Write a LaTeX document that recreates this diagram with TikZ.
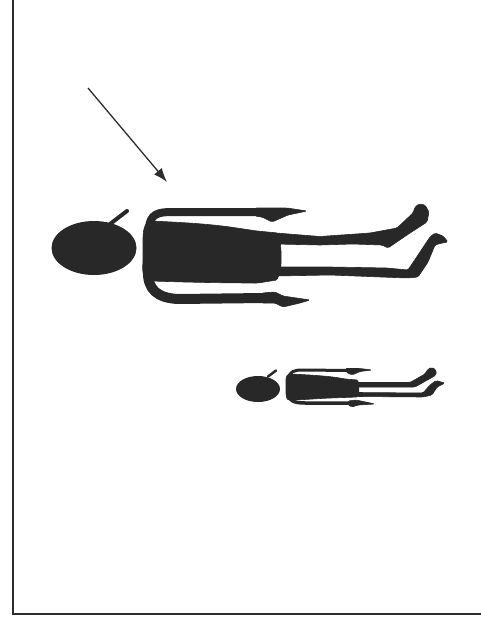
\documentclass[tikz,border=0pt]{standalone}
\usetikzlibrary{arrows.meta}
\definecolor{figink}{RGB}{40,40,40}
\definecolor{frameink}{RGB}{45,45,45}
\begin{document}
\begin{tikzpicture}[x=1pt,y=-1pt,
  body/.style={fill=figink, draw=figink, line width=0.6pt, line join=round, rounded corners=1.5pt},
  limb/.style={draw=figink, line cap=round, line join=round},
  frame/.style={draw=frameink, line width=1.4pt},
  pointer/.style={draw=frameink, line width=1.3pt, -{Latex[length=14pt,width=10pt]}}]
  \useasboundingbox (0,0) rectangle (481,623);
  \fill[white] (0,0) rectangle (481,623);

  % frame: left edge and bottom edge
  \coordinate (ftop) at (13,0);
  \coordinate (fcorner) at (13,614);
  \coordinate (fright) at (481,614);
  \draw[frame] (ftop) -- (fcorner) -- (fright);

  % pointer arrow
  \coordinate (tail) at (88,88);
  \coordinate (tip) at (167,182);
  \draw[pointer] (tail) -- (tip);

  % ---------- large figure ----------
  \fill[figink] (94,248) ellipse [x radius=42.5pt, y radius=27pt];
  \draw[limb, line width=4pt] (110,224) -- (127,211);
  % torso
  \fill[body] (152,221) .. controls (170,222) and (200,223) .. (230,227) -- (257,231) -- (278,233)
    .. controls (281,240) and (282,262) .. (280,272) -- (277,280) -- (258,283)
    .. controls (220,283) and (180,282) .. (152,281)
    .. controls (144,281) and (142,272) .. (143,262) -- (143,240)
    .. controls (143,228) and (146,221) .. (152,221) -- cycle;
  % upper arm and hand
  \draw[limb, line width=8pt] (149,228) .. controls (150,214) and (158,212) .. (172,212) -- (262,212);
  \fill[body] (255,208) -- (287,208) -- (307,211) -- (288,215) -- (272,222) -- (262,217) -- (255,216) -- cycle;
  % lower arm and hand
  \draw[limb, line width=10pt] (148,270) .. controls (147,290) and (158,298) .. (178,299) -- (265,298);
  \fill[body] (262,293) -- (275,292) -- (283,296) -- (310,300) -- (300,303) -- (283,307) -- (275,303) -- (262,303) -- cycle;
  % legs
  \fill[body] (276,233) -- (320,236.5) -- (370,233) -- (397,228) -- (413,213) -- (415,207) -- (419,204)
    -- (425,205) -- (429,212) -- (427,222) -- (407,235) -- (388,248) -- (382,245) -- (353,244)
    -- (320,245) -- (276,244) -- cycle;
  \fill[body] (276,267) -- (330,267) -- (387,268) -- (408,270) -- (420,252) -- (430,237) -- (435,233)
    -- (443,236) -- (448,242) -- (442,243) -- (435,245) -- (428,262) -- (418,277) -- (407,278)
    -- (330,275) -- (276,276) -- cycle;

  % ---------- small figure ----------
  \fill[figink] (258,389) ellipse [x radius=22pt, y radius=13pt];
  \draw[limb, line width=2.5pt] (268,376.5) -- (276,370.5);
  % torso
  \fill[body] (291,374) .. controls (310,375) and (330,376) .. (345,379) -- (358,380) -- (359,390) -- (358,397)
    -- (330,398) .. controls (310,399) and (300,400) .. (291,400)
    .. controls (286,400) and (286,395) .. (286,390) -- (286,381)
    .. controls (286,376) and (288,374) .. (291,374) -- cycle;
  % arms and hands
  \draw[limb, line width=3pt] (288,380) .. controls (289,371) and (295,370) .. (302,370) -- (350,370.5);
  \fill[body] (345,368.5) -- (360,368.5) -- (372,370) -- (360,371.5) -- (352,375) -- (346,372) -- cycle;
  \draw[limb, line width=3.5pt] (288,393) .. controls (288,401) and (295,403) .. (305,403) -- (352,403);
  \fill[body] (348,401) -- (356,400) -- (375,404) -- (358,405) -- (352,407) -- (348,405) -- cycle;
  % legs
  \fill[body] (357,382.5) -- (410,382.5) -- (425,374) -- (428,369) -- (432,367.5) -- (436,370) -- (436,375)
    -- (431,378) -- (415,387) -- (357,387) -- cycle;
  \fill[body] (357,392.5) -- (423,393) -- (430,385) -- (436,380.5) -- (441,382) -- (445,383) -- (441,385)
    -- (437,387) -- (432,395) -- (423,397) -- (357,396.5) -- cycle;
\end{tikzpicture}
\end{document}
